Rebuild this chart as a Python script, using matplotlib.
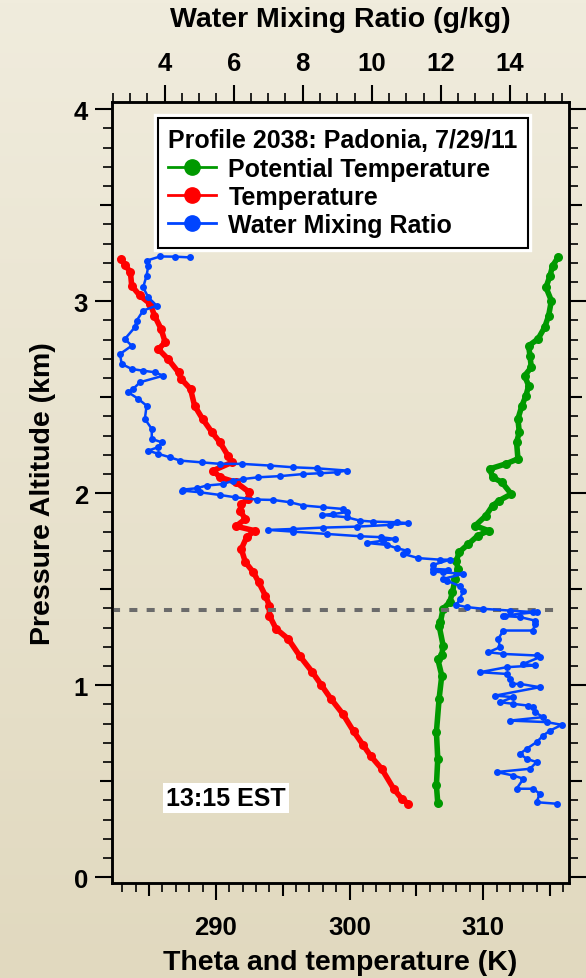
import matplotlib
matplotlib.use("Agg")
import matplotlib.pyplot as plt
import numpy as np
from matplotlib.lines import Line2D
from matplotlib.ticker import MultipleLocator, FuncFormatter
import matplotlib.patheffects as pe

plt.rcParams['font.family'] = ['Liberation Sans', 'DejaVu Sans']
plt.rcParams['font.weight'] = 'bold'

# Temperature profile (K) vs pressure altitude (km)
temp_k = [282.9, 283.2, 283.6, 283.7, 284.3, 285.1, 285.4, 285.9, 286.2, 285.7,
          286.4, 287.2, 287.4, 288.1, 288.4, 289.0, 289.7, 290.3, 290.9, 291.2,
          289.8, 290.3, 291.5, 292.5, 292.4, 291.9, 291.8, 292.2, 291.5, 292.9,
          292.3, 291.9, 292.2, 292.8, 293.2, 293.7, 294.0, 294.0, 294.5, 295.4,
          296.3, 297.2, 297.9, 298.6, 299.5, 300.3, 301.0, 301.6, 302.4, 303.3,
          303.9, 304.4]
alt_temp = [3.219, 3.19, 3.15, 3.08, 3.03, 2.985, 2.925, 2.855, 2.786, 2.75,
            2.70, 2.63, 2.595, 2.543, 2.456, 2.387, 2.318, 2.265, 2.196, 2.161,
            2.118, 2.083, 2.057, 2.005, 1.97, 1.944, 1.909, 1.866, 1.828, 1.805,
            1.771, 1.710, 1.641, 1.589, 1.537, 1.467, 1.415, 1.363, 1.294, 1.242,
            1.15, 1.07, 1.0, 0.93, 0.85, 0.76, 0.69, 0.63, 0.565, 0.461,
            0.409, 0.383]

# Potential temperature (K)
theta_k = [315.6, 315.2, 315.0, 314.7, 315.1, 314.9, 314.6, 314.1, 313.4, 313.5,
           313.6, 313.1, 313.4, 313.2, 312.9, 312.6, 312.7, 312.5, 312.6, 311.7,
           310.5, 310.7, 311.4, 312.1, 311.2, 310.7, 310.2, 309.4, 310.4, 309.6,
           308.9, 308.2, 308.0, 308.1, 307.9, 307.7, 307.5, 307.0, 306.8, 306.7,
           307.0, 306.9, 306.6, 306.9, 306.7, 306.5, 306.6, 306.5, 306.6]
alt_theta = [3.228, 3.185, 3.133, 3.072, 3.003, 2.925, 2.864, 2.803, 2.768, 2.716,
             2.656, 2.612, 2.56, 2.508, 2.456, 2.387, 2.318, 2.265, 2.179, 2.153,
             2.127, 2.083, 2.057, 1.996, 1.962, 1.935, 1.883, 1.831, 1.805, 1.779,
             1.736, 1.693, 1.649, 1.606, 1.554, 1.485, 1.433, 1.398, 1.329, 1.311,
             1.207, 1.155, 1.137, 1.05, 0.929, 0.756, 0.617, 0.478, 0.388]

# Water mixing ratio (g/kg)
w_gkg = [4.74, 4.3, 3.87, 3.48, 3.53, 3.48, 3.38, 3.53, 3.77, 3.38,
         3.19, 3.14, 2.85, 3.05, 2.71, 2.76, 3.05, 3.38, 3.72, 3.96,
         3.29, 3.09, 2.95, 3.24, 3.48, 3.43, 3.63, 3.63, 3.92, 3.82,
         3.53, 3.82, 4.16, 4.45, 5.07, 5.60, 6.23, 7.05, 7.73, 8.40,
         9.27, 8.98, 8.50, 8.02, 7.34, 6.71, 6.28, 5.99, 5.70, 5.22,
         4.93, 4.54, 4.50, 5.02, 5.60, 6.04, 6.67, 7.15, 7.63, 8.02,
         8.60, 9.17, 9.27, 8.88, 8.55, 9.27, 9.66, 10.04, 10.72, 11.06,
         10.53, 9.56, 8.60, 7.73, 7.00, 7.73, 8.69, 9.66, 10.28, 10.67,
         10.33, 9.85, 10.43, 10.72, 11.01, 10.91, 11.35, 11.97, 12.26, 11.78,
         11.78, 12.21, 12.07, 11.78, 12.65, 12.07, 12.17, 12.55, 12.65, 12.55,
         12.45, 12.75, 13.23, 14.0, 14.67, 14.77, 13.81, 13.86, 14.29, 14.72,
         14.72, 14.67, 13.81, 13.66, 13.71, 13.37, 13.81, 14.77, 14.86, 14.38,
         14.72, 13.90, 13.13, 13.90, 14.0, 14.05, 14.29, 14.86, 13.57, 14.10,
         13.71, 14.10, 14.53, 14.67, 14.72, 14.96, 14.0, 15.06, 15.5, 15.16,
         14.96, 14.77, 14.48, 14.29, 14.48, 14.77, 14.58, 13.61, 14.10, 14.39,
         14.19, 14.67, 14.86, 14.77, 15.35]
alt_w = [3.228, 3.232, 3.233, 3.211, 3.185, 3.133, 3.072, 3.02, 2.977, 2.951,
         2.898, 2.864, 2.803, 2.768, 2.725, 2.673, 2.647, 2.638, 2.63, 2.612,
         2.578, 2.543, 2.526, 2.491, 2.456, 2.387, 2.335, 2.283, 2.265, 2.24,
         2.222, 2.205, 2.187, 2.17, 2.161, 2.153, 2.153, 2.144, 2.135, 2.13,
         2.118, 2.109, 2.104, 2.10, 2.089, 2.083, 2.074, 2.066, 2.048, 2.040,
         2.026, 2.019, 2.014, 2.005, 1.991, 1.979, 1.967, 1.965, 1.953, 1.936,
         1.927, 1.918, 1.901, 1.892, 1.887, 1.875, 1.857, 1.852, 1.849, 1.844,
         1.835, 1.826, 1.821, 1.814, 1.809, 1.80, 1.788, 1.776, 1.771, 1.762,
         1.753, 1.741, 1.731, 1.714, 1.701, 1.684, 1.662, 1.654, 1.654, 1.627,
         1.606, 1.602, 1.592, 1.592, 1.58, 1.554, 1.545, 1.516, 1.493, 1.45,
         1.418, 1.407, 1.398, 1.389, 1.381, 1.381, 1.363, 1.36, 1.355, 1.337,
         1.32, 1.285, 1.285, 1.242, 1.198, 1.172, 1.163, 1.155, 1.146, 1.111,
         1.103, 1.094, 1.068, 1.059, 1.033, 1.007, 1.007, 0.99, 0.946, 0.938,
         0.912, 0.903, 0.894, 0.886, 0.86, 0.834, 0.816, 0.808, 0.794, 0.764,
         0.738, 0.704, 0.669, 0.643, 0.617, 0.60, 0.565, 0.548, 0.53, 0.513,
         0.461, 0.461, 0.435, 0.391, 0.383]

mixed_layer_top = 1.39
time_label = "13:15 EST"
legend_title = "Profile 2038: Padonia, 7/29/11"

green = '#009900'
red = '#FF0000'
blue = '#0044FF'

fig = plt.figure(figsize=(5.86, 9.79), dpi=100)

# beige gradient background
bg = fig.add_axes([0, 0, 1, 1], zorder=-10)
grad = np.linspace(0, 1, 256).reshape(-1, 1)
top_c = np.array([0xF0, 0xEC, 0xDD]) / 255
bot_c = np.array([0xE1, 0xD9, 0xBF]) / 255
img = top_c[None, None, :] * (1 - grad[:, :, None]) + bot_c[None, None, :] * grad[:, :, None]
bg.imshow(img, aspect='auto', extent=[0, 1, 0, 1])
bg.axis('off')

ax = fig.add_axes([0.1906, 0.0970, 0.7799, 0.7983])
ax.patch.set_visible(False)
ax2 = ax.twiny()

ax.plot(theta_k, alt_theta, color=green, lw=4, marker='o', ms=6.5, mew=0, zorder=3)
ax.plot(temp_k, alt_temp, color=red, lw=4, marker='o', ms=6.5, mew=0, zorder=3)
ax2.plot(w_gkg, alt_w, color=blue, lw=1.8, marker='o', ms=5, mew=0, zorder=3)

ax.axhline(mixed_layer_top, xmin=0.0, xmax=0.982, color='#6B6B6B', lw=2.9,
           dashes=(2, 2.3), zorder=4)

ax.set_xlim(282.2, 316.4)
ax2.set_xlim(2.47, 15.70)
ax.set_ylim(-0.03, 4.04)

# ticks
fs = 18.5
lfs = 20.5
ax.xaxis.set_major_locator(MultipleLocator(5))
ax.xaxis.set_minor_locator(MultipleLocator(1))
ax.xaxis.set_major_formatter(FuncFormatter(lambda v, p: '%d' % v if v % 10 == 0 else ''))
ax.yaxis.set_major_locator(MultipleLocator(0.5))
ax.yaxis.set_minor_locator(MultipleLocator(0.1))
ax.yaxis.set_major_formatter(FuncFormatter(lambda v, p: '%d' % v if abs(v - round(v)) < 1e-6 else ''))
ax.tick_params(axis='y', which='both', left=True, right=True, direction='out')
ax.tick_params(which='major', length=12, width=1.5, labelsize=fs)
ax.tick_params(which='minor', length=6.5, width=1.2)
ax.tick_params(axis='x', which='major', pad=11)
ax.tick_params(axis='y', which='major', pad=5)

ax2.xaxis.set_major_locator(MultipleLocator(2))
ax2.xaxis.set_minor_locator(MultipleLocator(0.5))
ax2.tick_params(which='major', length=12, width=1.5, labelsize=fs, pad=7)
ax2.tick_params(which='minor', length=6.5, width=1.2)

for a in (ax, ax2):
    for s in a.spines.values():
        s.set_linewidth(1.8)

fig.canvas.draw()
for t in ax.xaxis.get_major_ticks():
    if abs(t.get_loc() % 10) > 1e-6:
        t.tick1line.set_markersize(9)
for t in ax.yaxis.get_major_ticks():
    if abs(t.get_loc() - round(t.get_loc())) > 1e-6:
        t.tick1line.set_markersize(9)
        t.tick2line.set_markersize(9)

ax.set_xlabel("Theta and temperature (K)", fontsize=lfs, fontweight='bold', labelpad=7)
ax2.set_xlabel("Water Mixing Ratio (g/kg)", fontsize=lfs, fontweight='bold', labelpad=18)
ax.set_ylabel("Pressure Altitude (km)", fontsize=lfs, fontweight='bold', labelpad=13)

handles = [
    Line2D([], [], color=green, lw=2, marker='o', ms=11),
    Line2D([], [], color=red, lw=2, marker='o', ms=11),
    Line2D([], [], color=blue, lw=2, marker='o', ms=11),
]
labels = ["Potential Temperature", "Temperature", "Water Mixing Ratio"]
leg = ax2.legend(handles, labels, loc='upper left', bbox_to_anchor=(0.101, 0.979),
                 title=legend_title, title_fontproperties={'weight': 'bold', 'size': 18},
                 prop={'weight': 'bold', 'size': 18}, fancybox=False, framealpha=1,
                 edgecolor='black', handlelength=1.9, handletextpad=0.5,
                 labelspacing=0.17, borderpad=0.42, borderaxespad=0, alignment='left')
leg.get_frame().set_linewidth(1.5)
leg.get_frame().set_path_effects([pe.withStroke(linewidth=6, foreground='white')])
leg.set_zorder(10)

ax.text(290.75, 0.414, time_label, fontsize=18, fontweight='bold', ha='center', va='center',
        bbox=dict(facecolor='white', edgecolor='none', pad=2), zorder=6)

fig.savefig("out.png", dpi=100)
